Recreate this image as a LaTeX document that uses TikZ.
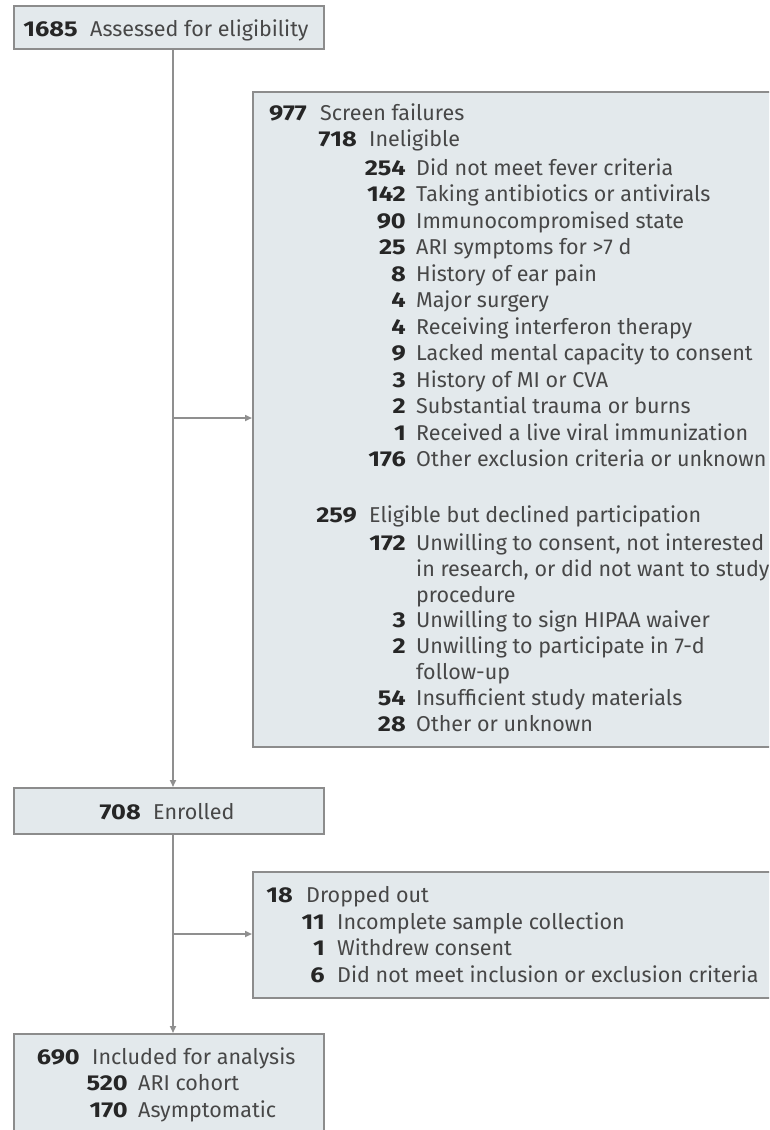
\documentclass[tikz,border=0pt]{standalone}
\usepackage{fontspec}
\setmainfont{Fira Sans}
\newfontfamily\numfont[FakeStretch=1.18]{Fira Sans}
\usetikzlibrary{arrows.meta}
\definecolor{boxfill}{HTML}{E3E9EC}
\definecolor{boxline}{HTML}{8C8C8C}
\definecolor{linecol}{HTML}{8F8F8F}
\definecolor{numcol}{HTML}{262626}
\definecolor{txtcol}{HTML}{474747}
\tikzset{
 box/.style={draw=boxline, line width=1.6pt, fill=boxfill, inner sep=0pt, anchor=north west},
 num/.style={anchor=base east, inner sep=0pt, font=\fontsize{21.5}{26}\numfont\bfseries, text=numcol},
 txt/.style={anchor=base west, inner sep=0pt, font=\fontsize{21.5}{26}\selectfont, text=txtcol},
 conn/.style={draw=linecol, line width=1.6pt},
 arr/.style={conn, -{Triangle[length=7pt,width=6pt]}},
}
% name, x of number right edge, centre y, number, text, gap
\newcommand\flowentry[6]{%
 \node[num] (n#1) at (#2, #3+7) {#4};
 \node[txt] (t#1) at (#2+#6, #3+7) {#5};
}
\newcommand\flowcont[4]{% name, x, centre y, text
 \node[txt] (#1) at (#2, #3+7) {#4};
}
\begin{document}
\begin{tikzpicture}[x=1pt,y=-1pt]
\useasboundingbox (0,0) rectangle (769,1130);
\clip (0,0) rectangle (769,1130);
\fill[white] (0,0) rectangle (769,1130);

% boxes
\node[box, minimum width=310pt, minimum height=43pt] (assess) at (13,5) {};
\node[box, minimum width=540pt, minimum height=655pt] (screen) at (252,91) {};
\node[box, minimum width=310pt, minimum height=46pt] (enrolled) at (13,787) {};
\node[box, minimum width=540pt, minimum height=126pt] (dropped) at (252,871) {};
\node[box, minimum width=310pt, minimum height=120pt] (included) at (13,1033) {};

% connectors
\coordinate (v) at (173,0);
\coordinate (b1) at (173,418);
\coordinate (b2) at (173,934);
\draw[arr] (assess.south -| v) -- (enrolled.north -| v);
\draw[arr] (b1) -- (b1 -| screen.west);
\draw[arr] (enrolled.south -| v) -- (included.north -| v);
\draw[arr] (b2) -- (b2 -| dropped.west);

% top box
\flowentry{a1}{78}{29}{1685}{Assessed for eligibility}{12}

% screen failures
\flowentry{s1}{307}{113}{977}{Screen failures}{13}
\flowentry{s2}{357}{139}{718}{Ineligible}{12}
\flowentry{s3}{406}{168}{254}{Did not meet fever criteria}{10}
\flowentry{s4}{406}{194.5}{142}{Taking antibiotics or antivirals}{10}
\flowentry{s5}{406}{221}{90}{Immunocompromised state}{10}
\flowentry{s6}{406}{247.5}{25}{ARI symptoms for >7 d}{10}
\flowentry{s7}{406}{274}{8}{History of ear pain}{10}
\flowentry{s8}{406}{300.5}{4}{Major surgery}{10}
\flowentry{s9}{406}{327}{4}{Receiving interferon therapy}{10}
\flowentry{s10}{406}{353.5}{9}{Lacked mental capacity to consent}{10}
\flowentry{s11}{406}{380}{3}{History of MI or CVA}{10}
\flowentry{s12}{406}{406.5}{2}{Substantial trauma or burns}{10}
\flowentry{s13}{406}{433}{1}{Received a live viral immunization}{10}
\flowentry{s14}{406}{459.5}{176}{Other exclusion criteria or unknown}{10}
\flowentry{s15}{357}{515}{259}{Eligible but declined participation}{12}
\flowentry{s16}{406}{543}{172}{Unwilling to consent, not interested}{10}
\flowcont{s16b}{416}{569}{in research, or did not want to study}
\flowcont{s16c}{416}{595}{procedure}
\flowentry{s17}{406}{620}{3}{Unwilling to sign HIPAA waiver}{10}
\flowentry{s18}{406}{646}{2}{Unwilling to participate in 7-d}{10}
\flowcont{s18b}{416}{672}{follow-up}
\flowentry{s19}{406}{698}{54}{Insufficient study materials}{10}
\flowentry{s20}{406}{724}{28}{Other or unknown}{10}

% enrolled
\flowentry{e1}{141}{812}{708}{Enrolled}{12}

% dropped out
\flowentry{d1}{293}{895}{18}{Dropped out}{13}
\flowentry{d2}{325}{922}{11}{Incomplete sample collection}{12}
\flowentry{d3}{325}{948}{1}{Withdrew consent}{12}
\flowentry{d4}{325}{975}{6}{Did not meet inclusion or exclusion criteria}{12}

% included
\flowentry{i1}{80}{1057}{690}{Included for analysis}{12}
\flowentry{i2}{128}{1083}{520}{ARI cohort}{10}
\flowentry{i3}{128}{1110}{170}{Asymptomatic}{10}
\end{tikzpicture}
\end{document}
